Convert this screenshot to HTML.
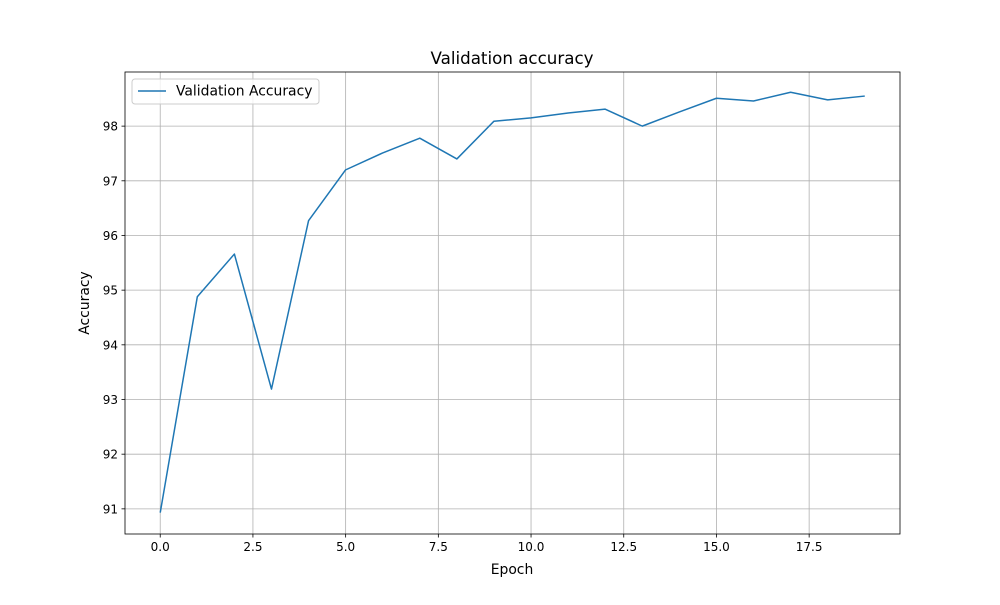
<!DOCTYPE html>
<html><head><meta charset="utf-8"><style>
body{margin:0;background:#fff;}
svg text{font-family:"DejaVu Sans","Liberation Sans",sans-serif;fill:#000;}
</style></head><body>
<svg id="chart" width="1000" height="600" viewBox="0 0 1000 600">
<rect width="1000" height="600" fill="#fff"/>
<g id="grid"></g>
<g id="ticks"></g>
<path id="line" fill="none" stroke="#1f77b4" stroke-width="1.5" stroke-linejoin="round"/>
<rect x="125" y="72" width="775" height="462" fill="none" stroke="#000" stroke-width="0.8"/>
<text x="512" y="64" font-size="16.7" text-anchor="middle">Validation accuracy</text>
<text x="512" y="574" font-size="13.9" text-anchor="middle">Epoch</text>
<text x="89" y="303" font-size="13.9" text-anchor="middle" transform="rotate(-90 89 303)">Accuracy</text>
<g>
<rect x="132" y="79" width="187" height="25" rx="3" fill="#fff" fill-opacity="0.8" stroke="#ccc"/>
<line x1="138" y1="91" x2="166" y2="91" stroke="#1f77b4" stroke-width="1.5"/>
<text x="176" y="95.5" font-size="13.9">Validation Accuracy</text>
</g>
</svg>
<script>
const epochs=[0,1,2,3,4,5,6,7,8,9,10,11,12,13,14,15,16,17,18,19];
const accuracy=[90.93,94.88,95.66,93.19,96.27,97.20,97.51,97.78,97.40,98.09,98.15,98.24,98.31,98.00,98.26,98.51,98.46,98.62,98.48,98.55];
const xTicks=[0,2.5,5,7.5,10,12.5,15,17.5];
const xTickLabels=["0.0","2.5","5.0","7.5","10.0","12.5","15.0","17.5"];
const yTicks=[91,92,93,94,95,96,97,98];
const ns="http://www.w3.org/2000/svg";
const X0=125,X1=900,Y0=72,Y1=534;
const xMin=-0.95,xMax=19.95,yMin=90.54,yMax=98.99;
const sx=v=>X0+(v-xMin)/(xMax-xMin)*(X1-X0);
const sy=v=>Y1-(v-yMin)/(yMax-yMin)*(Y1-Y0);
const grid=document.getElementById('grid'),ticks=document.getElementById('ticks');
function mk(tag,attrs,parent){const e=document.createElementNS(ns,tag);for(const k in attrs)e.setAttribute(k,attrs[k]);parent.appendChild(e);return e;}
xTicks.forEach((t,i)=>{const x=sx(t);
const g=mk('line',{x1:x,x2:x,y1:Y0,y2:Y1,stroke:'#b0b0b0','stroke-width':0.8},grid);


const tk=mk('line',{x1:x,x2:x,y1:Y1,y2:Y1+3.5,stroke:'#000','stroke-width':0.8},ticks);


const tx=mk('text',{x:x,y:Y1+17,'font-size':12,'text-anchor':'middle'},ticks);tx.textContent=xTickLabels[i];


});
yTicks.forEach(t=>{const y=sy(t);
const g=mk('line',{x1:X0,x2:X1,y1:y,y2:y,stroke:'#b0b0b0','stroke-width':0.8},grid);


const tk=mk('line',{x1:X0-3.5,x2:X0,y1:y,y2:y,stroke:'#000','stroke-width':0.8},ticks);


const tx=mk('text',{x:X0-7,y:y+4.5,'font-size':12,'text-anchor':'end'},ticks);tx.textContent=String(t);


});
document.getElementById('line').setAttribute('d',epochs.map((e,i)=>(i?'L':'M')+sx(e).toFixed(2)+','+sy(accuracy[i]).toFixed(2)).join(''));
</script>
</body></html>
